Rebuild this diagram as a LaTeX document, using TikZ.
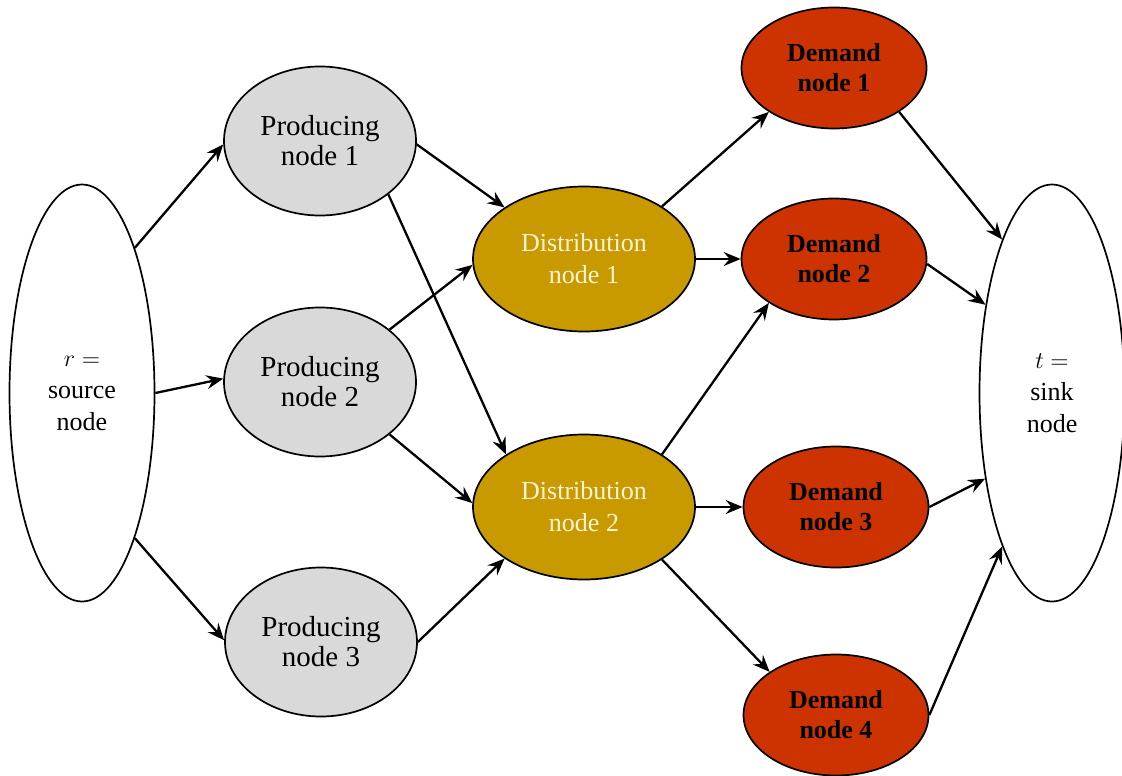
\documentclass[tikz,border=0pt]{standalone}
\usepackage{fontspec}
\setmainfont{Liberation Serif}
\usetikzlibrary{arrows.meta,shapes.geometric}
\definecolor{greyfill}{HTML}{D9D9D9}
\definecolor{goldfill}{HTML}{C89A00}
\definecolor{redfill}{HTML}{CC3300}
\definecolor{cream}{HTML}{FFF3D6}
\begin{document}
\begin{tikzpicture}[x=0.5pt,y=-0.5pt,
 base/.style={ellipse, draw=black, line width=0.85pt, inner sep=0pt, align=center},
 endnode/.style={base, fill=white, minimum width=72.5pt, minimum height=208.5pt, font=\rmfamily\fontsize{13}{16}\selectfont},
 prodnode/.style={base, fill=greyfill, minimum width=96pt, minimum height=74.5pt, font=\rmfamily\fontsize{14.5}{15}\selectfont},
 distnode/.style={base, fill=goldfill, text=cream, minimum width=111pt, minimum height=72.5pt, font=\rmfamily\fontsize{13}{16}\selectfont},
 demnode/.style={base, fill=redfill, minimum width=92.5pt, minimum height=60.5pt, font=\rmfamily\fontsize{13}{15}\selectfont\bfseries},
 flow/.style={line width=1.15pt, -{Stealth[length=8.5pt,width=7pt,inset=3pt]}}
]
\useasboundingbox (0,0) rectangle (1122,775);

\node[endnode] (src) at (82,393) {$r =$\\source\\node};
\node[endnode] (snk) at (1052,393) {$t =$\\sink\\node};

\node[prodnode] (p1) at (320,141) {Producing\\node 1};
\node[prodnode] (p2) at (320,382) {Producing\\node 2};
\node[prodnode] (p3) at (321,642) {Producing\\node 3};

\node[distnode] (d1) at (584,259) {Distribution\\node 1};
\node[distnode] (d2) at (584,507) {Distribution\\node 2};

\node[demnode] (m1) at (834,68) {Demand\\node 1};
\node[demnode] (m2) at (834,259) {Demand\\node 2};
\node[demnode] (m3) at (836,507) {Demand\\node 3};
\node[demnode] (m4) at (836,715) {Demand\\node 4};

\draw[flow] (src.70) -- (p1.182);
\draw[flow] (src.0) -- (p2.178);
\draw[flow] (src.-70) -- (p3.179);

\draw[flow] (p1.-2) -- (d1.147);
\draw[flow] (p1.-38) -- (d2.146);
\draw[flow] (p2.37) -- (d1.183);
\draw[flow] (p2.-37) -- (d2.178);
\draw[flow] (p3.0) -- (d2.213);

\draw[flow] (d1.34) -- (m1.214);
\draw[flow] (d1.0) -- (m2.180);
\draw[flow] (d2.34) -- (m2.214);
\draw[flow] (d2.0) -- (m3.180);
\draw[flow] (d2.-34) -- (m4.147);

\draw[flow] (m1.-34) -- (snk.108);
\draw[flow] (m2.-3) -- (snk.127);
\draw[flow] (m3.0) -- (snk.232);
\draw[flow] (m4.0) -- (snk.252);
\end{tikzpicture}
\end{document}
